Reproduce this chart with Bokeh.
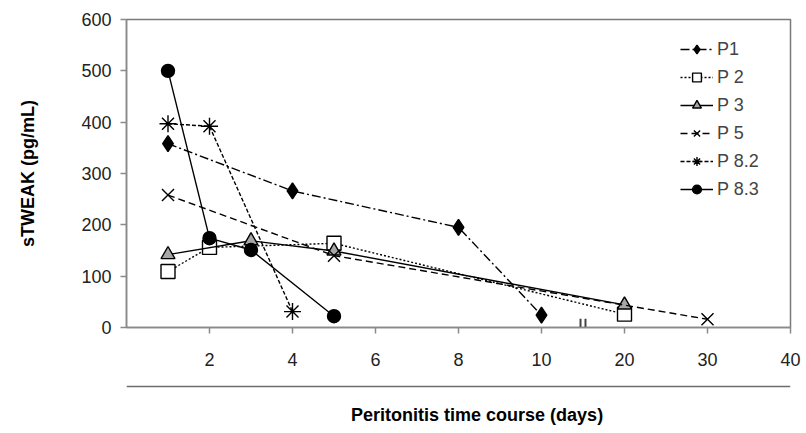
from bokeh.plotting import figure
from bokeh.layouts import column
from bokeh.models import Range1d, FixedTicker, Legend, LegendItem
from bokeh.core.properties import value
from bokeh.embed import file_html
from bokeh.resources import INLINE

# ---- data ----
tick_days = [2, 4, 6, 8, 10, 20, 30, 40]
tick_labels = ["2", "4", "6", "8", "10", "20", "30", "40"]
y_ticks = [0, 100, 200, 300, 400, 500, 600]

p1_days = [1, 4, 8, 10]
p1_vals = [358, 266, 195, 24]
p2_days = [1, 2, 5, 20]
p2_vals = [109, 156, 164, 26]
p3_days = [1, 3, 5, 20]
p3_vals = [142, 169, 149, 44]
p5_days = [1, 5, 30]
p5_vals = [258, 140, 16]
p82_days = [1, 2, 4]
p82_vals = [397, 392, 31]
p83_days = [1, 2, 3, 5]
p83_vals = [500, 174, 151, 22]

x_title = "Peritonitis time course (days)"
y_title = "sTWEAK (pg/mL)"


def axis_pos(day):
    # broken time axis: 2-day steps up to day 10, then 10-day steps
    return day / 2 if day <= 10 else 5 + (day - 10) / 10


def pos_list(days):
    return [axis_pos(d) for d in days]


FONT = "Liberation Sans"
AXIS_GRAY = "#8a8a8a"

p = figure(width=804, height=384, output_backend="svg", toolbar_location=None,
           x_range=Range1d(0, 8), y_range=Range1d(0, 600),
           min_border_left=126, min_border_right=14, min_border_top=19,
           min_border_bottom=57)
p.background_fill_color = "white"
p.border_fill_color = "white"
p.outline_line_color = "#7a7a7a"
p.outline_line_width = 1.5
p.xgrid.visible = False
p.ygrid.visible = False

tick_pos = [int(axis_pos(d)) for d in tick_days]
p.xaxis.ticker = FixedTicker(ticks=tick_pos)
p.xaxis.major_label_overrides = {t: lab for t, lab in zip(tick_pos, tick_labels)}
p.yaxis.ticker = FixedTicker(ticks=y_ticks)

for ax in (p.xaxis, p.yaxis):
    ax.axis_line_color = AXIS_GRAY
    ax.axis_line_width = 1.5
    ax.major_tick_line_color = AXIS_GRAY
    ax.major_tick_line_width = 1.5
    ax.major_tick_out = 6
    ax.major_tick_in = 0
    ax.minor_tick_line_color = None
    ax.major_label_text_font = FONT
    ax.major_label_text_font_size = "18px"
    ax.major_label_text_color = "#222222"
    ax.axis_label_text_font = FONT
    ax.axis_label_text_font_size = "18px"
    ax.axis_label_text_font_style = "bold"
    ax.axis_label_text_color = "black"

p.yaxis.major_label_standoff = 9
p.xaxis.major_label_standoff = 19
p.yaxis.axis_label = y_title
p.yaxis.axis_label_standoff = 40

series = [
    ("P1", p1_days, p1_vals, "9 3 2 3", "diamond", 16, "black"),
    ("P 2", p2_days, p2_vals, "2 2", "square", 14, "white"),
    ("P 3", p3_days, p3_vals, "solid", "triangle", 14, "#a6a6a6"),
    ("P 5", p5_days, p5_vals, "7 4", "x", 17, "black"),
    ("P 8.2", p82_days, p82_vals, "4 2", "asterisk", 17, "black"),
    ("P 8.3", p83_days, p83_vals, "solid", "circle", 13, "black"),
]

items = []
for label, days, vals, dash, marker, size, fill in series:
    xs = pos_list(days)
    rl = p.line(xs, vals, line_color="black", line_width=1.4, line_dash=dash)
    rm = p.scatter(xs, vals, marker=marker, size=size, fill_color=fill,
                   line_color="black", line_width=1.4)
    items.append(LegendItem(label=label, renderers=[rl, rm]))

legend = Legend(items=items, location="top_right", border_line_color=None,
                background_fill_alpha=0, label_text_font=FONT,
                label_text_font_size="18px", glyph_width=33, glyph_height=22,
                label_height=22, label_width=54, spacing=6, padding=6,
                margin=19, label_standoff=4)
p.add_layout(legend, "center")

# axis break marks "||" between day 10 and day 20
brk = (axis_pos(10) + axis_pos(20)) / 2
p.segment(x0=[brk - 0.03, brk + 0.03], y0=[0, 0],
          x1=[brk - 0.03, brk + 0.03], y1=[17, 17],
          line_color="#444444", line_width=2)

# lower strip: rule under the tick labels and the x-axis title
q = figure(width=804, height=46, output_backend="svg", toolbar_location=None,
           x_range=Range1d(0, 1), y_range=Range1d(0, 1),
           x_axis_location=None, y_axis_location=None,
           min_border_left=115, min_border_right=2, min_border_top=0,
           min_border_bottom=0)
q.outline_line_color = None
q.xgrid.visible = False
q.ygrid.visible = False
q.background_fill_color = "white"
q.border_fill_color = "white"
q.segment(x0=[0], y0=[0.955], x1=[1], y1=[0.955], line_color="#6e6e6e",
          line_width=1.5)
q.text(x=[0.528], y=[0.33], text=[x_title], text_font=value(FONT),
       text_font_size="18px", text_font_style="bold", text_color="black",
       text_align="center", text_baseline="middle")

layout = column(p, q, spacing=0)
open("out.html", "w").write(file_html(layout, INLINE))
